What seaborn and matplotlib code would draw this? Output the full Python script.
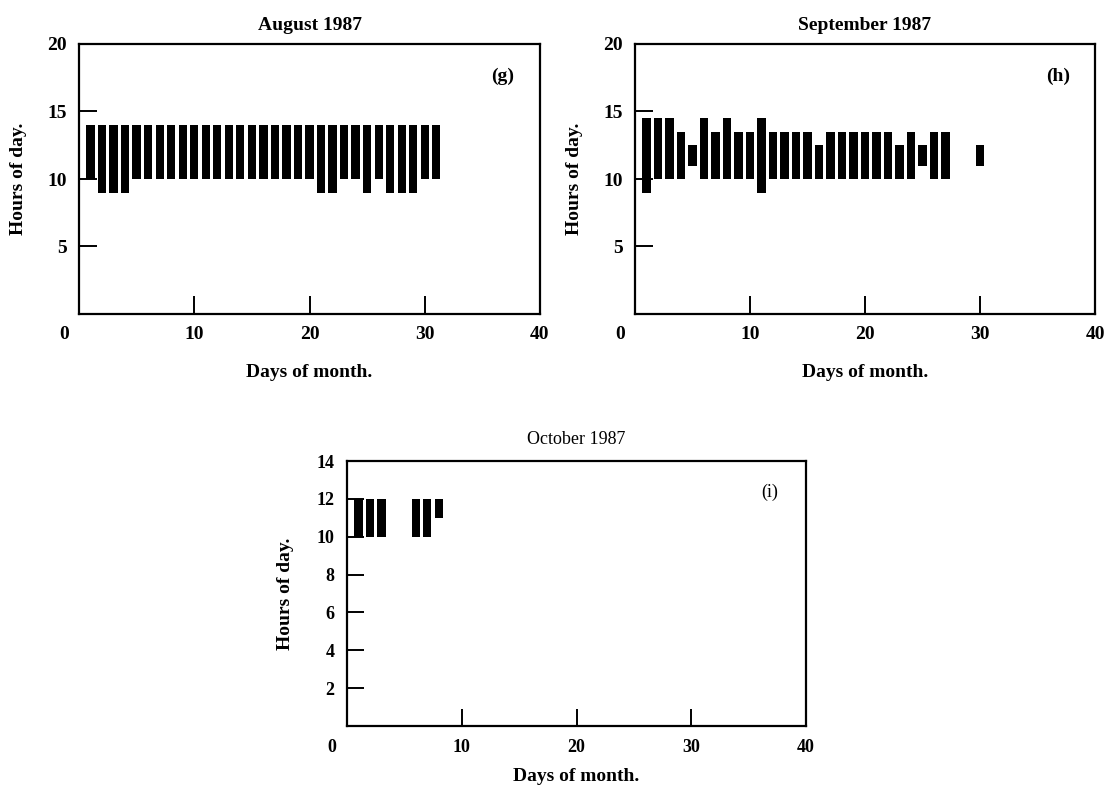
import numpy as np
import pandas as pd
import matplotlib
matplotlib.use("Agg")
import matplotlib.pyplot as plt
import matplotlib.transforms as mtransforms
import seaborn as sns

# August 1987 (g)
aug_days = [1, 2, 3, 4, 5, 6, 7, 8, 9, 10, 11, 12, 13, 14, 15, 16,
            17, 18, 19, 20, 21, 22, 23, 24, 25, 26, 27, 28, 29, 30, 31]
aug_start = [10, 9, 9, 9, 10, 10, 10, 10, 10, 10, 10, 10, 10, 10, 10, 10,
             10, 10, 10, 10, 9, 9, 10, 10, 9, 10, 9, 9, 9, 10, 10]
aug_end = [14, 14, 14, 14, 14, 14, 14, 14, 14, 14, 14, 14, 14, 14, 14, 14,
           14, 14, 14, 14, 14, 14, 14, 14, 14, 14, 14, 14, 14, 14, 14]

# September 1987 (h)
sep_days = [1, 2, 3, 4, 5, 6, 7, 8, 9, 10, 11, 12, 13, 14, 15, 16,
            17, 18, 19, 20, 21, 22, 23, 24, 25, 26, 27, 30]
sep_start = [9, 10, 10, 10, 11, 10, 10, 10, 10, 10, 9, 10, 10, 10, 10, 10,
             10, 10, 10, 10, 10, 10, 10, 10, 11, 10, 10, 11]
sep_end = [14.5, 14.5, 14.5, 13.5, 12.5, 14.5, 13.5, 14.5, 13.5, 13.5, 14.5,
           13.5, 13.5, 13.5, 13.5, 12.5, 13.5, 13.5, 13.5, 13.5, 13.5, 13.5,
           12.5, 13.5, 12.5, 13.5, 13.5, 12.5]

# October 1987 (i)
oct_days = [1, 2, 3, 6, 7, 8]
oct_start = [10, 10, 10, 10, 10, 11]
oct_end = [12, 12, 12, 12, 12, 12]

day_ticks = [0, 10, 20, 30, 40]

sns.set_theme(style="white")
plt.rcParams['font.family'] = ['Liberation Serif', 'DejaVu Serif']
plt.rcParams['text.color'] = 'black'
plt.rcParams['axes.labelcolor'] = 'black'
plt.rcParams['xtick.color'] = 'black'
plt.rcParams['ytick.color'] = 'black'

fig = plt.figure(figsize=(11.07, 7.92), dpi=100)
W, H = 1107, 792


def add_ax(left, top, right, bottom):
    return fig.add_axes([left / W, 1 - bottom / H, (right - left) / W, (bottom - top) / H])


def draw_month(ax, days, start, end, ymax, yticks, title, tag, small=False):
    df = pd.DataFrame({"day": days, "start": start, "end": end})
    df["hours"] = df["end"] - df["start"]
    df = df.sort_values("day")
    sns.barplot(data=df, x="day", y="hours", bottom=df["start"].to_numpy(),
                native_scale=True, errorbar=None, color="black", saturation=1,
                width=0.72, linewidth=0, ax=ax)
    ax.set_xlim(0, 40)
    ax.set_ylim(0, ymax)
    ax.set_xticks(day_ticks)
    ax.set_xticklabels([str(t) for t in day_ticks])
    ax.set_yticks(yticks)
    ax.set_yticklabels([str(t) for t in yticks])

    fs = 13 if small else 14
    ax.tick_params(direction="in", length=12 if small else 13, width=1.4,
                   colors="black", labelsize=fs, pad=9,
                   bottom=True, left=True, top=False, right=False)
    for lab in ax.get_xticklabels() + ax.get_yticklabels():
        lab.set_fontweight("bold")
    # the "0" sits left of the corner in the original
    shift = mtransforms.ScaledTranslation(-0.15, 0, fig.dpi_scale_trans)
    for lab in ax.get_xticklabels():
        if lab.get_text() == "0":
            lab.set_transform(lab.get_transform() + shift)

    for sp in ax.spines.values():
        sp.set_visible(True)
        sp.set_color("black")
        sp.set_linewidth(1.6)

    ax.set_title(title, fontsize=fs, fontweight="normal" if small else "bold",
                 pad=12 if small else 10)
    ax.set_xlabel("Days of month.", fontsize=14, fontweight="bold",
                  labelpad=9 if small else 15)
    ax.set_ylabel("Hours of day.", fontsize=14, fontweight="bold",
                  labelpad=16 if small else 14)
    ax.text(0.92, 0.88, tag, transform=ax.transAxes, ha="center", va="center",
            fontsize=fs, fontweight="normal" if small else "bold")


ax_g = add_ax(79, 44, 540, 314)
draw_month(ax_g, aug_days, aug_start, aug_end, 20, [5, 10, 15, 20],
           "August 1987", "(g)")

ax_h = add_ax(635, 44, 1095, 314)
draw_month(ax_h, sep_days, sep_start, sep_end, 20, [5, 10, 15, 20],
           "September 1987", "(h)")

ax_i = add_ax(347, 461, 806, 726)
draw_month(ax_i, oct_days, oct_start, oct_end, 14, [2, 4, 6, 8, 10, 12, 14],
           "October 1987", "(i)", small=True)

fig.savefig("out.png", dpi=100, facecolor="white")
